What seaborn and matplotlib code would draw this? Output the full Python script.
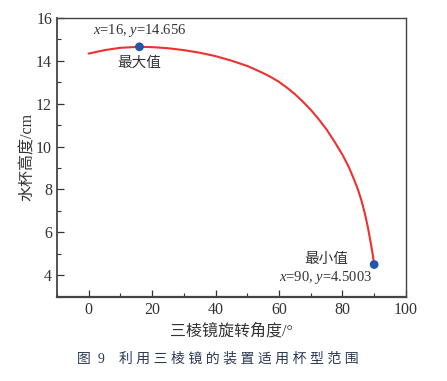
import pandas as pd
import matplotlib.pyplot as plt
import seaborn as sns
from matplotlib.ticker import MultipleLocator

# values
angle_deg = [0, 5, 10, 16, 20, 25, 30, 35, 40, 45, 50, 52.5, 55, 57.5, 60, 62.5, 65, 67.5,
             70, 72.5, 75, 77.5, 80, 81, 82, 83, 84, 85, 86, 87, 88, 89, 89.5, 90]
cup_height = [14.34, 14.50, 14.61, 14.656, 14.64, 14.59, 14.50, 14.38, 14.22, 14.01, 13.76,
              13.60, 13.43, 13.24, 13.02, 12.75, 12.45, 12.10,
              11.72, 11.28, 10.80, 10.23, 9.62, 9.34, 9.05, 8.70, 8.34,
              7.95, 7.48, 6.92, 6.25, 5.45, 5.02, 4.5003]
extreme_x = [16, 90]
extreme_y = [14.656, 4.5003]

df = pd.DataFrame({"angle": angle_deg, "height": cup_height})
pts = pd.DataFrame({"angle": extreme_x, "height": extreme_y})

sns.set_theme(style="white")
plt.rcParams["font.family"] = ["Liberation Serif", "Noto Sans CJK SC"]
plt.rcParams["mathtext.fontset"] = "custom"
plt.rcParams["mathtext.it"] = "Liberation Serif:italic"
plt.rcParams["mathtext.rm"] = "Liberation Serif"

fig = plt.figure(figsize=(4.47, 3.81), dpi=100)
ax = fig.add_axes([0.1275, 0.2213, 0.7805, 0.7315])

sns.lineplot(data=df, x="angle", y="height", color="#f03030", linewidth=1.5, ax=ax)
sns.scatterplot(data=pts, x="angle", y="height", color="#2456a8", s=40,
                edgecolor="none", zorder=5, ax=ax)

txt = "#333333"
ax.text(16, 15.42, "$x$=16, $y$=14.656", ha="center", va="center", fontsize=10.5, color=txt)
ax.text(16, 13.87, "最大值", ha="center", va="center", fontsize=10.5, color=txt)
ax.text(74.8, 4.73, "最小值", ha="center", va="center", fontsize=10.5, color=txt)
ax.text(89.5, 3.9, "$x$=90, $y$=4.5003", ha="right", va="center", fontsize=10.5, color=txt)

ax.set_xlim(-10, 100)
ax.set_ylim(3, 16)
ax.xaxis.set_major_locator(MultipleLocator(20))
ax.xaxis.set_minor_locator(MultipleLocator(10))
ax.yaxis.set_major_locator(MultipleLocator(2))
ax.yaxis.set_minor_locator(MultipleLocator(1))
ax.tick_params(which="both", direction="in", bottom=True, left=True, top=False, right=False,
               colors=txt, labelsize=11.5)
ax.tick_params(which="major", length=5, width=0.9)
ax.tick_params(which="minor", length=3, width=0.8)
for s in ax.spines.values():
    s.set_color("#444444")
    s.set_linewidth(1.0)
ax.spines["bottom"].set_linewidth(1.6)
ax.spines["left"].set_linewidth(1.3)

ax.set_xlabel("三棱镜旋转角度/°", fontsize=11.5, color=txt, labelpad=4)
ax.set_ylabel("水杯高度/cm", fontsize=11.5, color=txt, labelpad=0.5)

caption = "图  9    " + " ".join("利用三棱镜的装置适用杯型范围")
fig.text(0.4866, 0.0577, caption, ha="center", va="center", fontsize=10, color="#2b3a55")

plt.savefig("out.png", dpi=100)
